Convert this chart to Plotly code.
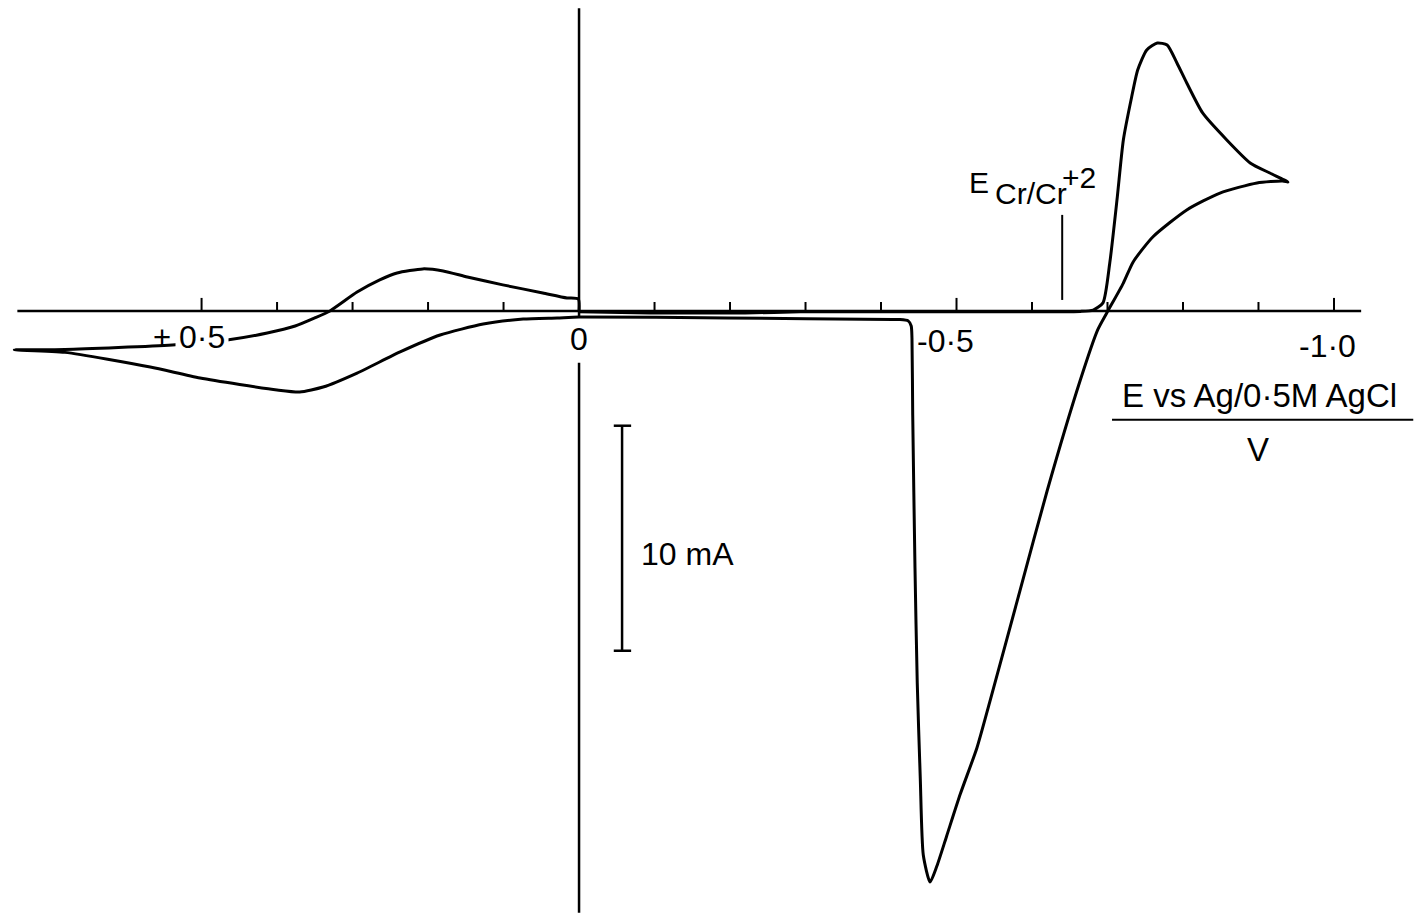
import plotly.graph_objects as go

# Cyclic voltammogram: electrode potential (V vs Ag/0.5 M AgCl) and current (mA)
E_V = [
    0.000, -0.094, -0.220, -0.293, -0.558, -0.664, -0.681,
    -0.694, -0.703, -0.713, -0.721, -0.732, -0.740, -0.752, -0.766, -0.779,
    -0.792, -0.805, -0.826, -0.858, -0.889, -0.915, -0.939,
    -0.932, -0.898, -0.849, -0.805, -0.760, -0.734, -0.721, -0.699,
    -0.687, -0.664, -0.620, -0.584, -0.544, -0.527, -0.505, -0.487, -0.474, -0.465,
    -0.456, -0.452, -0.448, -0.445, -0.442, -0.441, -0.440, -0.436, -0.425, -0.416,
    -0.196, 0.000,
    0.029, 0.074, 0.127, 0.184, 0.237, 0.294, 0.339, 0.370, 0.400, 0.502, 0.568, 0.681, 0.748,
    0.681, 0.539, 0.466, 0.413, 0.376, 0.350, 0.330, 0.294, 0.264, 0.241, 0.207, 0.180,
    0.148, 0.101, 0.048, 0.016, 0.001, 0.000,
]
I_mA = [
    -0.04, -0.09, -0.09, -0.04, -0.04, -0.02, 0.04,
    0.36, 2.13, 5.07, 7.60, 9.51, 10.71, 11.60, 11.91, 11.82,
    11.02, 10.13, 8.80, 7.60, 6.58, 6.13, 5.73,
    5.78, 5.69, 5.24, 4.49, 3.29, 2.18, 1.24, -0.09,
    -0.84, -3.07, -8.00, -12.44, -17.38, -19.42, -21.47, -23.33, -24.67, -25.38,
    -24.18, -20.76, -16.53, -11.42, -4.62, -1.20, -0.67, -0.44, -0.38, -0.38,
    -0.31, -0.27,
    -0.31, -0.36, -0.58, -1.07, -1.82, -2.76, -3.38, -3.60, -3.51, -2.98, -2.49, -1.84, -1.73,
    -1.71, -1.51, -1.29, -0.98, -0.67, -0.31, 0.00, 0.84, 1.38, 1.69, 1.87, 1.78,
    1.51, 1.16, 0.80, 0.58, 0.53, 0.00,
]

# Potential axis ticks (every 0.1 V) and labelled ticks
tick_E = [0.5, 0.4, 0.3, 0.2, 0.1, -0.1, -0.2, -0.3, -0.4, -0.5,
          -0.6, -0.7, -0.8, -0.9, -1.0]
major_E = [0.5, -0.5, -1.0]
label_E = [0.5, 0.0, -0.5, -1.0]
label_text = ["0·5", "0", "-0·5", "-1·0"]

# Equilibrium potential marker and current scale bar
E_eq = -0.640
scale_mA = 10.0
scale_top = -5.1

# Plot window (potential increases to the left)
x_range = [0.767, -1.106]
y_range = [-26.8, 13.82]

BLACK = "#000000"
FONT = "Liberation Sans"

fig = go.Figure()
fig.add_trace(go.Scatter(
    x=E_V, y=I_mA, mode="lines",
    line=dict(color=BLACK, width=3, shape="spline", smoothing=0.6),
    hoverinfo="skip", showlegend=False,
))

shapes = []
def seg(x0, y0, x1, y1, w=2.5):
    shapes.append(dict(type="line", xref="x", yref="y", x0=x0, y0=y0, x1=x1, y1=y1,
                       line=dict(color=BLACK, width=w), layer="above"))

# horizontal potential axis
seg(0.744, 0, -1.036, 0)
# vertical current axis, broken around the "0" label
seg(0, 13.45, 0, -0.3)
seg(0, -2.3, 0, -26.75)
# ticks
for e in tick_E:
    seg(e, 0, e, 0.58 if e in major_E else 0.4, 2)
# equilibrium potential marker
seg(E_eq, 0.49, E_eq, 4.27, 2)
# 10 mA scale bar
sx = -0.057
seg(sx, scale_top, sx, scale_top - scale_mA, 2.5)
seg(sx + 0.011, scale_top, sx - 0.012, scale_top, 2.5)
seg(sx + 0.011, scale_top - scale_mA, sx - 0.012, scale_top - scale_mA, 2.5)
# axis title fraction bar
seg(-0.706, -4.84, -1.105, -4.84, 2)

ann = []
def txt(x, y, s, size=32, xanchor="center", yanchor="middle", **kw):
    ann.append(dict(x=x, y=y, xref="x", yref="y", text=s, showarrow=False,
                    xanchor=xanchor, yanchor=yanchor,
                    font=dict(family=FONT, size=size, color=BLACK), **kw))

# tick labels; the "+" of +0·5 sits over the curve
txt(0.553, -1.2, "+", size=31)
txt(0.499, -1.15, label_text[0], bgcolor="white", borderpad=3)
txt(label_E[1], -1.25, label_text[1])
txt(-0.485, -1.35, label_text[2])
txt(-0.992, -1.55, label_text[3])

txt(-0.0795, -10.8, "10 mA", size=32, xanchor="left")
txt(-0.902, -3.75, "E vs Ag/0·5M AgCl", size=33)
txt(-0.899, -6.15, "V", size=33)

# E(Cr/Cr+2) label
txt(-0.546, 5.7, "E", size=30, xanchor="right")
txt(-0.548, 5.2, "Cr/Cr", size=30, xanchor="left")
txt(-0.637, 5.95, "+2", size=30, xanchor="left")

fig.update_layout(
    width=1414, height=914,
    margin=dict(l=0, r=0, t=0, b=0),
    paper_bgcolor="white", plot_bgcolor="white",
    xaxis=dict(range=x_range, visible=False, fixedrange=True),
    yaxis=dict(range=y_range, visible=False, fixedrange=True),
    shapes=shapes, annotations=ann,
    showlegend=False,
)

fig.write_html("out.html")
